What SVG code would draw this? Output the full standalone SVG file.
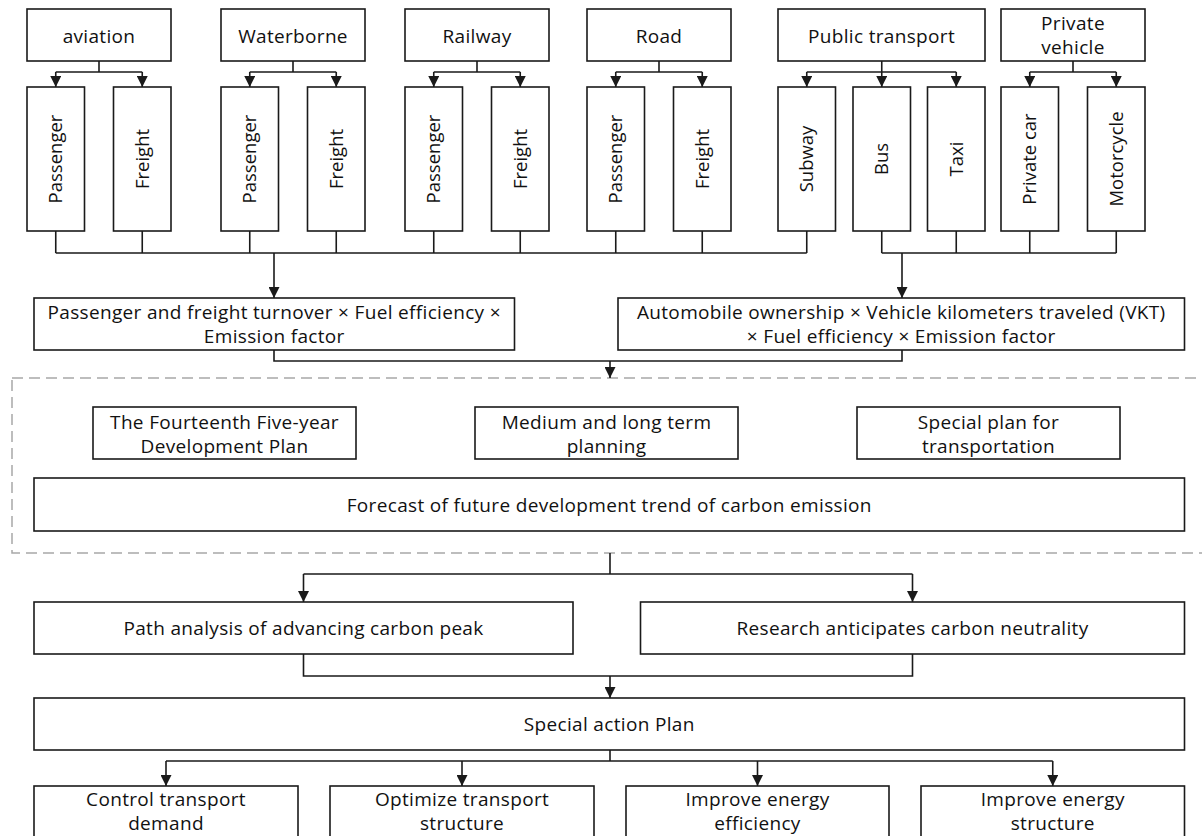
<svg xmlns="http://www.w3.org/2000/svg" width="1202" height="836" viewBox="0 0 1202 836">
<style>
  .box{fill:#fff;stroke:#1a1a1a;stroke-width:1.6}
  .t{font-family:"Open Sans","Liberation Sans",sans-serif;font-size:19px;letter-spacing:0.33px;fill:#111;text-anchor:middle}
  .v{font-family:"Open Sans","Liberation Sans",sans-serif;font-size:18.5px;fill:#111;text-anchor:middle}
  .c{fill:none;stroke:#1a1a1a;stroke-width:1.6}
  .a{fill:none;stroke:#1a1a1a;stroke-width:1.6;marker-end:url(#arr)}
  .dash{fill:none;stroke:#a8a8a8;stroke-width:1.5;stroke-dasharray:11 6}
</style>
<defs>
  <marker id="arr" markerUnits="userSpaceOnUse" markerWidth="11" markerHeight="11" viewBox="0 0 11 11" refX="11" refY="5.5" orient="auto">
    <path d="M0,0 L11,5.5 L0,11 z" fill="#1a1a1a"/>
  </marker>
</defs>
<rect width="1202" height="836" fill="#fff"/>

<rect id="planning-frame" class="dash" x="12" y="378" width="1200" height="175"/>

<g id="connectors">
  <path class="c" d="M99,61 V72 M55.75,72 H142.25"/>
  <path class="a" d="M55.75,72 V87"/><path class="a" d="M142.25,72 V87"/>
  <path class="c" d="M293,61 V72 M249.75,72 H336.25"/>
  <path class="a" d="M249.75,72 V87"/><path class="a" d="M336.25,72 V87"/>
  <path class="c" d="M477,61 V72 M433.75,72 H520.25"/>
  <path class="a" d="M433.75,72 V87"/><path class="a" d="M520.25,72 V87"/>
  <path class="c" d="M659,61 V72 M615.75,72 H702.25"/>
  <path class="a" d="M615.75,72 V87"/><path class="a" d="M702.25,72 V87"/>
  <path class="c" d="M806.75,72 H956.25"/>
  <path class="a" d="M881.75,61 V87"/>
  <path class="a" d="M806.75,72 V87"/><path class="a" d="M956.25,72 V87"/>
  <path class="c" d="M1073,61 V72 M1029.75,72 H1116.25"/>
  <path class="a" d="M1029.75,72 V87"/><path class="a" d="M1116.25,72 V87"/>

  <path class="c" d="M55.75,231 V253 M142.25,231 V253 M249.75,231 V253 M336.25,231 V253 M433.75,231 V253 M520.25,231 V253 M615.75,231 V253 M702.25,231 V253 M806.75,231 V253 M55.75,253 H806.75"/>
  <path class="a" d="M274,253 V298"/>
  <path class="c" d="M881.75,231 V253 M956.25,231 V253 M1029.75,231 V253 M1116.25,231 V253 M881.75,253 H1116.25"/>
  <path class="a" d="M902,253 V298"/>

  <path class="c" d="M274,350 V361 H902 V350"/>
  <path class="a" d="M610,361 V378"/>

  <path class="c" d="M610,553 V574 M303.5,574 H912.5"/>
  <path class="a" d="M303.5,574 V602"/><path class="a" d="M912.5,574 V602"/>

  <path class="c" d="M303.5,654 V676 H912.5 V654"/>
  <path class="a" d="M610,676 V698"/>

  <path class="c" d="M610,750 V761 M166,761 H1052.75"/>
  <path class="a" d="M166,761 V786"/><path class="a" d="M462,761 V786"/>
  <path class="a" d="M757.5,761 V786"/><path class="a" d="M1052.75,761 V786"/>
</g>

<g id="aviation"><rect class="box" x="27" y="9" width="144" height="52"/><text class="t" x="99" y="42.5">aviation</text></g>
<g id="waterborne"><rect class="box" x="221" y="9" width="144" height="52"/><text class="t" x="293" y="42.5">Waterborne</text></g>
<g id="railway"><rect class="box" x="405" y="9" width="144" height="52"/><text class="t" x="477" y="42.5">Railway</text></g>
<g id="road"><rect class="box" x="587" y="9" width="144" height="52"/><text class="t" x="659" y="42.5">Road</text></g>
<g id="public-transport"><rect class="box" x="778" y="9" width="207" height="52"/><text class="t" x="881.5" y="42.5">Public transport</text></g>
<g id="private-vehicle"><rect class="box" x="1001" y="9" width="144" height="52"/><text class="t" x="1073" y="30">Private</text><text class="t" x="1073" y="54">vehicle</text></g>

<g id="aviation-passenger"><rect class="box" x="27" y="87" width="57.5" height="144"/><text class="v" transform="translate(62,159) rotate(-90)">Passenger</text></g>
<g id="aviation-freight"><rect class="box" x="113.5" y="87" width="57.5" height="144"/><text class="v" transform="translate(148.5,159) rotate(-90)">Freight</text></g>
<g id="waterborne-passenger"><rect class="box" x="221" y="87" width="57.5" height="144"/><text class="v" transform="translate(256,159) rotate(-90)">Passenger</text></g>
<g id="waterborne-freight"><rect class="box" x="307.5" y="87" width="57.5" height="144"/><text class="v" transform="translate(342.5,159) rotate(-90)">Freight</text></g>
<g id="railway-passenger"><rect class="box" x="405" y="87" width="57.5" height="144"/><text class="v" transform="translate(440,159) rotate(-90)">Passenger</text></g>
<g id="railway-freight"><rect class="box" x="491.5" y="87" width="57.5" height="144"/><text class="v" transform="translate(526.5,159) rotate(-90)">Freight</text></g>
<g id="road-passenger"><rect class="box" x="587" y="87" width="57.5" height="144"/><text class="v" transform="translate(622,159) rotate(-90)">Passenger</text></g>
<g id="road-freight"><rect class="box" x="673.5" y="87" width="57.5" height="144"/><text class="v" transform="translate(708.5,159) rotate(-90)">Freight</text></g>
<g id="subway"><rect class="box" x="778" y="87" width="57.5" height="144"/><text class="v" transform="translate(813,159) rotate(-90)">Subway</text></g>
<g id="bus"><rect class="box" x="853" y="87" width="57.5" height="144"/><text class="v" transform="translate(888,159) rotate(-90)">Bus</text></g>
<g id="taxi"><rect class="box" x="927.5" y="87" width="57.5" height="144"/><text class="v" transform="translate(962.5,159) rotate(-90)">Taxi</text></g>
<g id="private-car"><rect class="box" x="1001" y="87" width="57.5" height="144"/><text class="v" transform="translate(1036,159) rotate(-90)">Private car</text></g>
<g id="motorcycle"><rect class="box" x="1087.5" y="87" width="57.5" height="144"/><text class="v" transform="translate(1122.5,159) rotate(-90)">Motorcycle</text></g>

<g id="formula-turnover"><rect class="box" x="34" y="298" width="480.5" height="52"/><text class="t" x="274.25" y="319">Passenger and freight turnover × Fuel efficiency ×</text><text class="t" x="274.25" y="343">Emission factor</text></g>
<g id="formula-vkt"><rect class="box" x="618" y="298" width="566.5" height="52"/><text class="t" x="901.25" y="319">Automobile ownership × Vehicle kilometers traveled (VKT)</text><text class="t" x="901.25" y="343">× Fuel efficiency × Emission factor</text></g>

<g id="five-year-plan"><rect class="box" x="93" y="407" width="263" height="52"/><text class="t" x="224.5" y="429">The Fourteenth Five-year</text><text class="t" x="224.5" y="453">Development Plan</text></g>
<g id="medium-long-term"><rect class="box" x="475" y="407" width="263" height="52"/><text class="t" x="606.5" y="429">Medium and long term</text><text class="t" x="606.5" y="453">planning</text></g>
<g id="special-plan"><rect class="box" x="857" y="407" width="263" height="52"/><text class="t" x="988.5" y="429">Special plan for</text><text class="t" x="988.5" y="453">transportation</text></g>
<g id="forecast"><rect class="box" x="34" y="478" width="1150.5" height="53"/><text class="t" x="609.25" y="511.5">Forecast of future development trend of carbon emission</text></g>

<g id="path-analysis"><rect class="box" x="34" y="602" width="539" height="52"/><text class="t" x="303.5" y="635">Path analysis of advancing carbon peak</text></g>
<g id="research"><rect class="box" x="640.5" y="602" width="544" height="52"/><text class="t" x="912.5" y="635">Research anticipates carbon neutrality</text></g>
<g id="special-action"><rect class="box" x="34" y="698" width="1150.5" height="52"/><text class="t" x="609.25" y="730.5">Special action Plan</text></g>

<g id="control-demand"><rect class="box" x="34" y="786" width="264" height="70"/><text class="t" x="166" y="806">Control transport</text><text class="t" x="166" y="830">demand</text></g>
<g id="optimize-structure"><rect class="box" x="330" y="786" width="264" height="70"/><text class="t" x="462" y="806">Optimize transport</text><text class="t" x="462" y="830">structure</text></g>
<g id="energy-efficiency"><rect class="box" x="626" y="786" width="263" height="70"/><text class="t" x="757.5" y="806">Improve energy</text><text class="t" x="757.5" y="830">efficiency</text></g>
<g id="energy-structure"><rect class="box" x="921" y="786" width="263.5" height="70"/><text class="t" x="1052.75" y="806">Improve energy</text><text class="t" x="1052.75" y="830">structure</text></g>
</svg>
